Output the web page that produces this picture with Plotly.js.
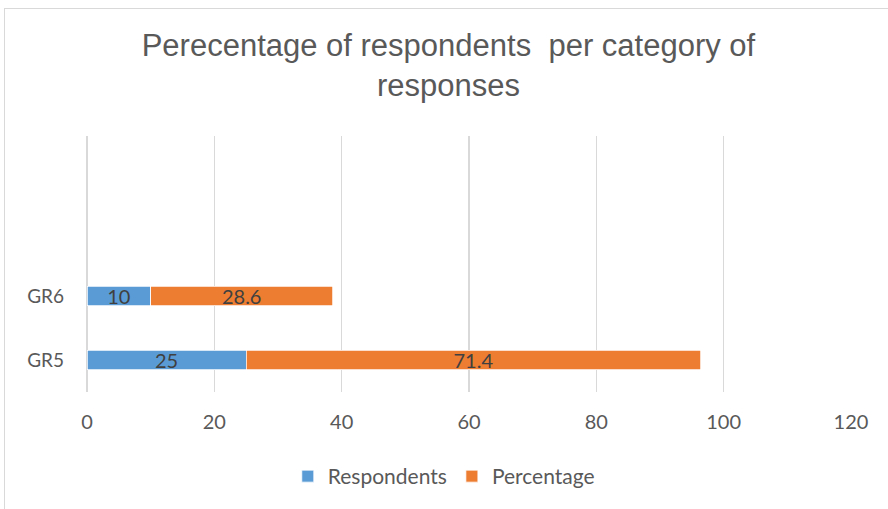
<!DOCTYPE html>
<html>
<head>
<meta charset="utf-8">
<script src="https://cdn.plot.ly/plotly-3.0.1.min.js"></script>
<style>
html,body{margin:0;padding:0;background:#fff;overflow:hidden;}
#frame{position:absolute;left:4px;top:8px;width:900px;height:520px;border:1px solid #d9d9d9;box-sizing:border-box;pointer-events:none;z-index:5;}
#chart{width:888px;height:509px;}
</style>
</head>
<body>
<div id="frame"></div>
<div id="chart"></div>
<script>
var categories = ['GR5', 'GR6'];
var respondents = [25, 10];
var percentage = [71.4, 28.6];
var xTicks = [0, 20, 40, 60, 80, 100, 120];

var fam = 'Lato, "Open Sans", sans-serif';
var labelFont = {family: fam, size: 20, color: '#404040'};

var traces = [
  {
    type: 'bar', orientation: 'h', name: 'Respondents',
    y: categories, x: respondents,
    text: respondents.map(String), textposition: 'inside', insidetextanchor: 'middle',
    textangle: 0, textfont: labelFont, constraintext: 'none',
    marker: {color: '#5B9BD5', line: {color: '#ffffff', width: 0.75}},
    width: 0.31, hoverinfo: 'x+name'
  },
  {
    type: 'bar', orientation: 'h', name: 'Percentage',
    y: categories, x: percentage,
    text: percentage.map(String), textposition: 'inside', insidetextanchor: 'middle',
    textangle: 0, textfont: labelFont, constraintext: 'none',
    marker: {color: '#ED7D31', line: {color: '#ffffff', width: 0.75}},
    width: 0.31, hoverinfo: 'x+name'
  }
];

var layout = {
  width: 888, height: 509,
  margin: {l: 87, r: 37, t: 136, b: 117},
  paper_bgcolor: '#ffffff', plot_bgcolor: '#ffffff',
  barmode: 'stack',
  title: {
    text: 'Perecentage of respondents  per category of<br>responses',
    font: {family: '"Liberation Sans", Arial, sans-serif', size: 31, color: '#595959'},
    x: 0.505, xanchor: 'center', xref: 'container',
    y: 0.89, yanchor: 'middle', yref: 'container'
  },
  xaxis: {
    range: [0, 120], tickvals: xTicks, ticktext: xTicks.map(String),
    showgrid: true, gridcolor: '#d9d9d9', gridwidth: 1.5,
    zeroline: true, zerolinecolor: '#d9d9d9', zerolinewidth: 1.5,
    showline: false, ticks: '',
    tickfont: {family: fam, size: 20, color: '#595959'},
    ticklabelstandoff: 16, fixedrange: true
  },
  yaxis: {
    type: 'category', range: [-0.5, 3.5],
    showgrid: false, zeroline: false, showline: false, ticks: '',
    tickfont: {family: fam, size: 19, color: '#595959'},
    ticklabelstandoff: 22, fixedrange: true
  },
  showlegend: true,
  legend: {
    orientation: 'h', x: 0.467, xanchor: 'center', y: -0.33, yanchor: 'middle',
    font: {family: fam, size: 21, color: '#595959'},
    traceorder: 'normal', itemwidth: 30
  }
};

Plotly.newPlot('chart', traces, layout, {displayModeBar: false, staticPlot: true});
</script>
</body>
</html>
